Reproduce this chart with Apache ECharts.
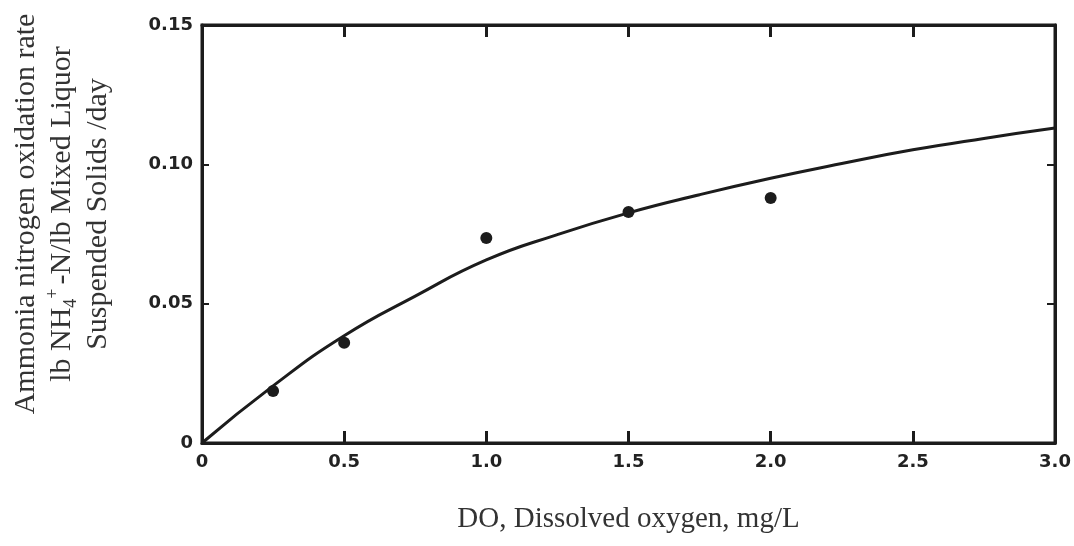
<!DOCTYPE html>
<html>
<head>
<meta charset="utf-8">
<title>Ammonia nitrogen oxidation rate vs DO</title>
<script src="https://cdn.jsdelivr.net/npm/echarts@6/dist/echarts.min.js"></script>
<style>
  html, body { margin: 0; padding: 0; background: #fff; }
  #chart { width: 1074px; height: 546px; }
</style>
</head>
<body>
<div id="chart"></div>
<script>
// measured points (DO mg/L, rate)
const obsDO = [0.25, 0.5, 1.0, 1.5, 2.0]
const obsRate = [0.0187, 0.036, 0.0736, 0.0829, 0.0879]

// fitted curve
const curveDO = [0, 0.25, 0.5, 0.75, 1.0, 1.25, 1.5, 1.75, 2.0, 2.25, 2.5, 2.75, 3.0]
const curveRate = [0, 0.0205, 0.0385, 0.0527, 0.0657, 0.0748, 0.0826, 0.0891, 0.095, 0.1003, 0.1052, 0.1093, 0.113]

const xTicks = ['0', '0.5', '1.0', '1.5', '2.0', '2.5', '3.0']
const yTicks = ['0', '0.05', '0.10', '0.15']

const ink = '#1c1c1c'
const tickFont = { fontFamily: 'DejaVu Sans', fontWeight: 'bold', fontSize: 18, color: '#222' }

const chart = echarts.init(document.getElementById('chart'))

// frame axes (top / right) only carry the inward ticks
const frameX = {
  type: 'value', min: 0, max: 3, interval: 0.5, position: 'top', show: true,
  axisLine: { show: true, onZero: false, lineStyle: { color: ink, width: 3 } },
  axisTick: { show: true, inside: true, length: 12, lineStyle: { color: ink, width: 3 } },
  axisLabel: { show: false }, splitLine: { show: false }
}
const frameY = {
  type: 'value', min: 0, max: 0.15, interval: 0.05, position: 'right', show: true,
  axisLine: { show: true, onZero: false, lineStyle: { color: ink, width: 3 } },
  axisTick: { show: true, inside: true, length: 8, lineStyle: { color: ink, width: 2 } },
  axisLabel: { show: false }, splitLine: { show: false }
}

const option = {
  backgroundColor: '#fff',
  animation: false,
  grid: { left: 202, top: 25, right: 19, bottom: 103, show: true, borderColor: ink, borderWidth: 3 },
  xAxis: [
    {
      type: 'value', min: 0, max: 3, interval: 0.5, position: 'bottom',
      axisLine: { onZero: false, lineStyle: { color: ink, width: 3 } },
      axisTick: { inside: true, length: 12, lineStyle: { color: ink, width: 3 } },
      axisLabel: { ...tickFont, margin: 10, formatter: v => xTicks[Math.round(v / 0.5)] },
      splitLine: { show: false },
      name: 'DO, Dissolved oxygen, mg/L', nameLocation: 'middle', nameGap: 62,
      nameTextStyle: { fontFamily: 'Liberation Serif', fontSize: 29, color: '#333' }
    },
    frameX
  ],
  yAxis: [
    {
      type: 'value', min: 0, max: 0.15, interval: 0.05, position: 'left',
      axisLine: { show: true, onZero: false, lineStyle: { color: ink, width: 3 } },
      axisTick: { show: true, inside: true, length: 7, lineStyle: { color: ink, width: 2 } },
      axisLabel: { ...tickFont, margin: 9, formatter: v => yTicks[Math.round(v / 0.05)] },
      splitLine: { show: false }
    },
    frameY
  ],
  graphic: [
    {
      type: 'text', x: 62, y: 214, rotation: Math.PI / 2,
      style: {
        text: '{a|Ammonia nitrogen oxidation rate}\n{a|lb NH}{sub|4}{sup|+}{a|-N/lb Mixed Liquor}\n{a|Suspended Solids /day}',
        align: 'center', verticalAlign: 'middle',
        fill: '#333',
        rich: {
          a: { fontFamily: 'Liberation Serif', fontSize: 30, lineHeight: 36, fill: '#333' },
          sub: { fontFamily: 'Liberation Serif', fontSize: 18, lineHeight: 36, fill: '#333', verticalAlign: 'bottom', padding: [10, 0, 0, 0] },
          sup: { fontFamily: 'Liberation Serif', fontSize: 18, lineHeight: 36, fill: '#333', verticalAlign: 'top', padding: [0, 4, 14, 0] }
        }
      }
    }
  ],
  series: [
    {
      type: 'line', smooth: true, showSymbol: false,
      data: curveDO.map((x, i) => [x, curveRate[i]]),
      lineStyle: { color: ink, width: 3 }
    },
    {
      type: 'scatter', symbol: 'circle', symbolSize: 12,
      data: obsDO.map((x, i) => [x, obsRate[i]]),
      itemStyle: { color: ink, opacity: 1 }
    },
    {
      // empty series so the frame axes get drawn
      type: 'line', xAxisIndex: 1, yAxisIndex: 1, data: [], silent: true
    }
  ]
}

chart.setOption(option)
</script>
</body>
</html>
